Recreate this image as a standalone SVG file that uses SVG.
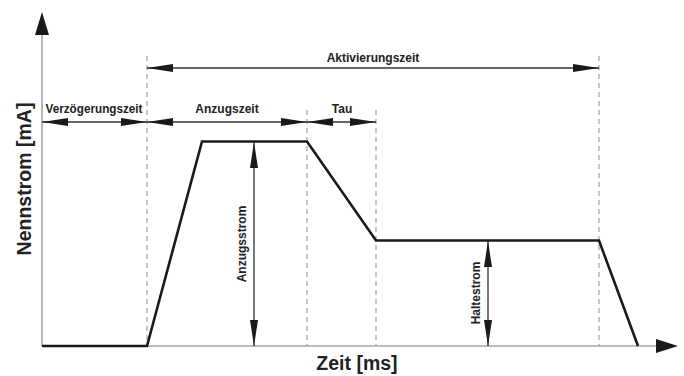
<svg xmlns="http://www.w3.org/2000/svg" width="684" height="376" viewBox="0 0 684 376">
<style>
.axis{stroke:#a6a6a6;stroke-width:1.6;fill:none}
.dash{stroke:#999;stroke-width:1.1;stroke-dasharray:5 4;fill:none}
.dim{stroke:#333;stroke-width:1.3;fill:none}
.head{fill:#1a1a1a}
.wave{stroke:#1a1a1a;stroke-width:2.6;fill:none;stroke-linejoin:miter}
.lbl{font-family:"Liberation Sans",Arial,sans-serif;font-weight:bold;font-size:12px;fill:#222}
.ax{font-family:"Liberation Sans",Arial,sans-serif;font-weight:bold;font-size:19.5px;fill:#222}
</style>
<defs>
<marker id="ah" viewBox="0 0 26 8" refX="26" refY="4" markerWidth="26" markerHeight="8" markerUnits="userSpaceOnUse" orient="auto-start-reverse">
<path d="M0,0 L26,4 L0,8 Z" class="head"/>
</marker>
</defs>
<g id="axes">
<line class="axis" x1="42" y1="346" x2="42" y2="30"/>
<path class="head" d="M42,12 L49,35 L35,35 Z"/>
<line class="axis" x1="42" y1="346" x2="660" y2="346"/>
<path class="head" d="M678,346 L656,339 L656,353 Z"/>
</g>
<g id="guides">
<line class="dash" x1="147" y1="56" x2="147" y2="346"/>
<line class="dash" x1="307" y1="110" x2="307" y2="346"/>
<line class="dash" x1="376" y1="110" x2="376" y2="346"/>
<line class="dash" x1="599" y1="56" x2="599" y2="346"/>
</g>
<g id="connectors">
<line class="dim" x1="147" y1="68" x2="599" y2="68" marker-start="url(#ah)" marker-end="url(#ah)"/>
<line class="dim" x1="42" y1="122" x2="147" y2="122" marker-start="url(#ah)" marker-end="url(#ah)"/>
<line class="dim" x1="147" y1="122" x2="307" y2="122" marker-start="url(#ah)" marker-end="url(#ah)"/>
<line class="dim" x1="307" y1="122" x2="376" y2="122" marker-start="url(#ah)" marker-end="url(#ah)"/>
<line class="dim" x1="254" y1="142" x2="254" y2="346" marker-start="url(#ah)" marker-end="url(#ah)"/>
<line class="dim" x1="488" y1="241" x2="488" y2="346" marker-start="url(#ah)" marker-end="url(#ah)"/>
</g>
<g id="waveform">
<polyline class="wave" points="42,346 147,346 202,141.5 307,141.5 376,240.5 599,240.5 638,346"/>
</g>
<g id="labels">
<text class="lbl" x="373" y="62" text-anchor="middle">Aktivierungszeit</text>
<text class="lbl" x="94" y="113" text-anchor="middle" textLength="97" lengthAdjust="spacingAndGlyphs">Verzögerungszeit</text>
<text class="lbl" x="227" y="113" text-anchor="middle">Anzugszeit</text>
<text class="lbl" x="342" y="113" text-anchor="middle">Tau</text>
<text class="lbl" transform="translate(246,244) rotate(-90)" text-anchor="middle">Anzugsstrom</text>
<text class="lbl" transform="translate(480,293) rotate(-90)" text-anchor="middle">Haltestrom</text>
<text class="ax" transform="translate(31,179) rotate(-90)" text-anchor="middle">Nennstrom [mA]</text>
<text class="ax" x="357" y="370" text-anchor="middle">Zeit [ms]</text>
</g>
</svg>
